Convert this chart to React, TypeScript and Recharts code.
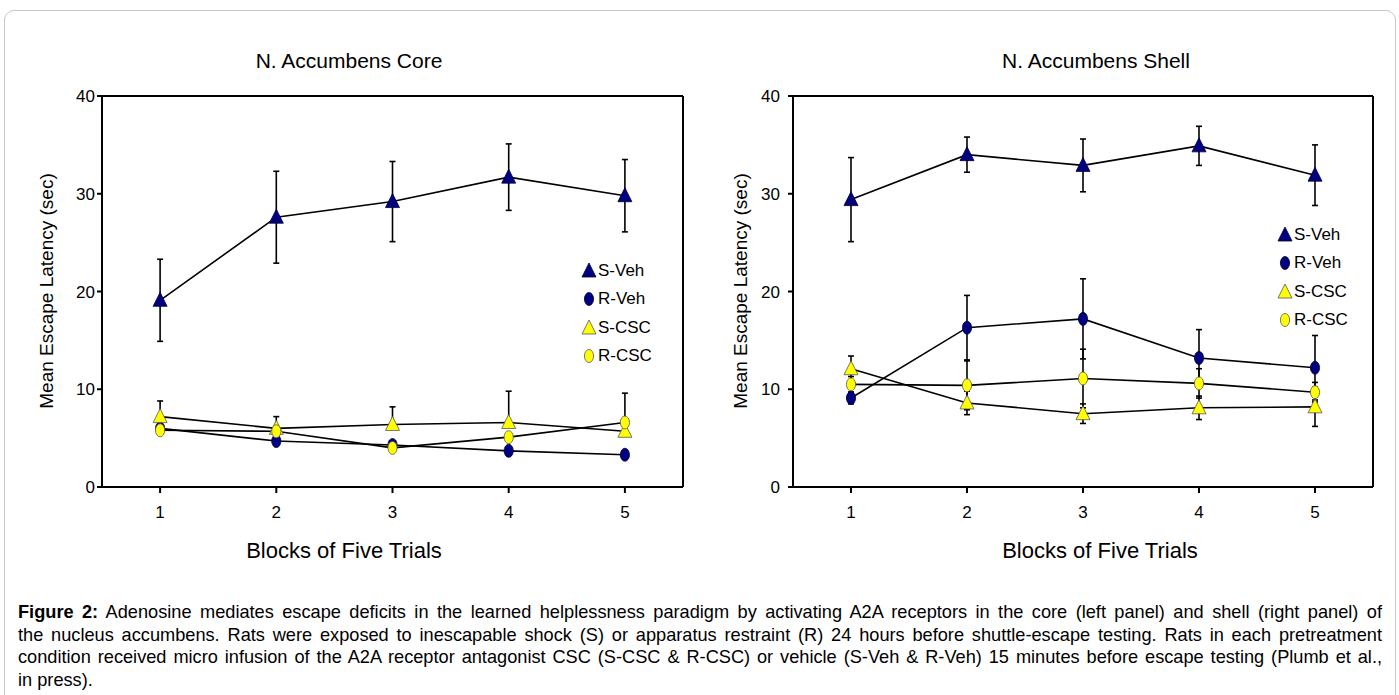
import React from "react"
import { LineChart, Line, XAxis, YAxis, ErrorBar, ReferenceLine } from "recharts"

const blocks = [1, 2, 3, 4, 5]
const yTicks = [0, 10, 20, 30, 40]
const seriesNames = ["S-Veh", "R-Veh", "S-CSC", "R-CSC"]

// N. Accumbens Core (left panel)
const coreSVeh = [19.1, 27.6, 29.2, 31.7, 29.8]
const coreSVehErr = [4.2, 4.7, 4.1, 3.4, 3.7]
const coreRVeh = [6.0, 4.7, 4.3, 3.7, 3.3]
const coreSCsc = [7.2, 6.0, 6.4, 6.6, 5.7]
const coreSCscErr = [1.6, 1.2, 1.8, 3.2, 0]
const coreRCsc = [5.8, 5.7, 4.0, 5.1, 6.6]
const coreRCscErr = [0, 0, 0, 0, 3.0]

// N. Accumbens Shell (right panel)
const shellSVeh = [29.4, 34.0, 32.9, 34.9, 31.9]
const shellSVehErr = [4.3, 1.8, 2.7, 2.0, 3.1]
const shellRVeh = [9.1, 16.3, 17.2, 13.2, 12.2]
const shellRVehErr = [0.6, 3.3, 4.1, 2.9, 3.3]
const shellSCsc = [12.1, 8.6, 7.5, 8.1, 8.2]
const shellSCscErr = [1.3, 1.2, 1.0, 1.2, 2.0]
const shellRCsc = [10.5, 10.4, 11.1, 10.6, 9.7]
const shellRCscErr = [0.8, 2.5, 3.0, 1.5, 1.0]

const captionLines = [
  " Adenosine mediates escape deficits in the learned helplessness paradigm by activating A2A receptors in the core (left panel) and shell (right panel) of",
  "the nucleus accumbens. Rats were exposed to inescapable shock (S) or apparatus restraint (R) 24 hours before shuttle-escape testing. Rats in each pretreatment",
  "condition received micro infusion of the A2A receptor antagonist CSC (S-CSC & R-CSC) or vehicle (S-Veh & R-Veh) 15 minutes before escape testing (Plumb et al.,",
  "in press).",
]

const FONT = '"Liberation Sans", Arial, sans-serif'
const NAVY = "#000080"
const YELLOW = "#ffff00"

const coreData = blocks.map((b, i) => ({
  block: b,
  sVeh: coreSVeh[i],
  sVehErr: [coreSVehErr[i], coreSVehErr[i]],
  rVeh: coreRVeh[i],
  sCsc: coreSCsc[i],
  sCscErr: [0, coreSCscErr[i]],
  rCsc: coreRCsc[i],
  rCscErr: [0, coreRCscErr[i]],
}))

const shellData = blocks.map((b, i) => ({
  block: b,
  sVeh: shellSVeh[i],
  sVehErr: [shellSVehErr[i], shellSVehErr[i]],
  rVeh: shellRVeh[i],
  rVehErr: [shellRVehErr[i], shellRVehErr[i]],
  sCsc: shellSCsc[i],
  sCscErr: [shellSCscErr[i], shellSCscErr[i]],
  rCsc: shellRCsc[i],
  rCscErr: [shellRCscErr[i], shellRCscErr[i]],
}))

const Marker = ({ cx, cy, shape, fill }: { cx: number; cy: number; shape: string; fill: string }) => {
  const edge = fill === NAVY ? "#000033" : "#555555"
  if (shape === "tri") {
    return (
      <polygon
        points={`${cx},${cy - 8} ${cx + 7},${cy + 6} ${cx - 7},${cy + 6}`}
        fill={fill}
        stroke={edge}
        strokeWidth={0.8}
      />
    )
  }
  return <ellipse cx={cx} cy={cy} rx={4.6} ry={6.5} fill={fill} stroke={edge} strokeWidth={0.8} />
}

const seriesStyle = [
  { key: "sVeh", shape: "tri", fill: NAVY },
  { key: "rVeh", shape: "oval", fill: NAVY },
  { key: "sCsc", shape: "tri", fill: YELLOW },
  { key: "rCsc", shape: "oval", fill: YELLOW },
]

// legend drawn as plain html next to the plot, Recharts' Legend would eat plot space
const LegendBox = ({ left, top }: { left: number; top: number }) => (
  <div style={{ position: "absolute", left, top, fontFamily: FONT, fontSize: 17, color: "#000" }}>
    {seriesNames.map((name, i) => (
      <div key={name} style={{ display: "flex", alignItems: "center", height: 28.3 }}>
        <svg width={16} height={18} style={{ marginRight: 1 }}>
          <Marker cx={8} cy={9} shape={seriesStyle[i].shape} fill={seriesStyle[i].fill} />
        </svg>
        <span>{name}</span>
      </div>
    ))}
  </div>
)

type PanelProps = {
  data: any[]
  left: number
  width: number
  margin: { top: number; right: number; left: number; bottom: number }
  yTickMargin: number
  errKeys: Record<string, boolean>
}

const Panel = ({ data, left, width, margin, yTickMargin, errKeys }: PanelProps) => (
  <div style={{ position: "absolute", left, top: 0 }}>
    <LineChart width={width} height={600} data={data} margin={margin}>
      <XAxis
        type="number"
        dataKey="block"
        domain={[0.5, 5.5]}
        ticks={blocks}
        height={40}
        axisLine={{ stroke: "#000", strokeWidth: 2 }}
        tickLine={{ stroke: "#000", strokeWidth: 2 }}
        tickSize={6}
        tickMargin={13}
        tick={{ fill: "#000", fontSize: 17, fontFamily: FONT }}
      />
      <YAxis
        domain={[0, 40]}
        ticks={yTicks}
        interval={0}
        width={40}
        axisLine={{ stroke: "#000", strokeWidth: 2 }}
        tickLine={{ stroke: "#000", strokeWidth: 2 }}
        tickSize={5}
        tickMargin={yTickMargin}
        tick={{ fill: "#000", fontSize: 17, fontFamily: FONT }}
      />
      <ReferenceLine y={40} stroke="#000" strokeWidth={2} />
      <ReferenceLine x={5.5} stroke="#000" strokeWidth={2} />
      {seriesStyle.map((s) => (
        <Line
          key={s.key}
          dataKey={s.key}
          stroke="#000"
          strokeWidth={1.6}
          isAnimationActive={false}
          dot={(p: any) => <Marker key={`${s.key}-${p.index}`} cx={p.cx} cy={p.cy} shape={s.shape} fill={s.fill} />}
          activeDot={false}
        >
          {errKeys[s.key] && (
            <ErrorBar dataKey={`${s.key}Err`} direction="y" width={3} stroke="#000" strokeWidth={1.6} />
          )}
        </Line>
      ))}
    </LineChart>
  </div>
)

const text = (style: React.CSSProperties, content: string) => (
  <div style={{ position: "absolute", fontFamily: FONT, color: "#000", whiteSpace: "nowrap", ...style }}>{content}</div>
)

export default function App() {
  return (
    <div style={{ position: "absolute", left: 0, top: 0, width: 1399, height: 695, overflow: "hidden", background: "#fff" }}>
      <div
        style={{
          position: "absolute",
          left: 4,
          top: 10,
          width: 1390,
          height: 740,
          border: "1px solid #c8c8c8",
          borderRadius: 10,
        }}
      />
      {text({ left: 149, top: 49, width: 400, textAlign: "center", fontSize: 21 }, "N. Accumbens Core")}
      {text({ left: 896, top: 49, width: 400, textAlign: "center", fontSize: 21 }, "N. Accumbens Shell")}
      {text(
        { left: 47 - 150, top: 280, width: 300, textAlign: "center", fontSize: 19, transform: "rotate(-90deg)" },
        "Mean Escape Latency (sec)"
      )}
      {text(
        { left: 741 - 150, top: 280, width: 300, textAlign: "center", fontSize: 19, transform: "rotate(-90deg)" },
        "Mean Escape Latency (sec)"
      )}
      {text({ left: 144, top: 538, width: 400, textAlign: "center", fontSize: 22 }, "Blocks of Five Trials")}
      {text({ left: 900, top: 538, width: 400, textAlign: "center", fontSize: 22 }, "Blocks of Five Trials")}

      <Panel
        data={coreData}
        left={0}
        width={700}
        margin={{ top: 96, right: 17, left: 62, bottom: 73 }}
        yTickMargin={2}
        errKeys={{ sVeh: true, sCsc: true, rCsc: true }}
      />
      <Panel
        data={shellData}
        left={700}
        width={699}
        margin={{ top: 96, right: 26, left: 53, bottom: 73 }}
        yTickMargin={8}
        errKeys={{ sVeh: true, rVeh: true, sCsc: true, rCsc: true }}
      />
      <LegendBox left={581} top={257} />
      <LegendBox left={1277} top={221} />

      <div
        style={{
          position: "absolute",
          left: 18,
          top: 601,
          width: 1364,
          fontFamily: FONT,
          fontSize: 18.2,
          lineHeight: "22.5px",
          color: "#000",
        }}
      >
        {captionLines.map((line, i) => (
          <div
            key={i}
            style={{
              whiteSpace: "nowrap",
              textAlign: "justify",
              textAlignLast: i < captionLines.length - 1 ? "justify" : "left",
            }}
          >
            {i === 0 && <b>Figure 2:</b>}
            {line}
          </div>
        ))}
      </div>
    </div>
  )
}
